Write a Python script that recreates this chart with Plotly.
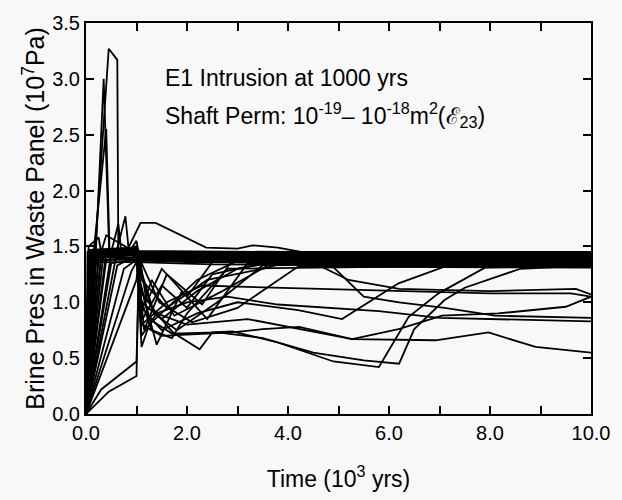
import plotly.graph_objects as go

# ---- data: time (10^3 yrs), brine pressure (10^7 Pa) ----
spike_1 = [(0, 0), (0.08, 0.6), (0.2, 1.6), (0.45, 3.27), (0.62, 3.17), (0.64, 1.45), (1.0, 1.45), (1.08, 1.38), (1.5, 1.39), (2.0, 1.41), (10, 1.41)]
spike_2 = [(0, 0), (0.1, 0.5), (0.35, 3.0), (0.46, 1.45), (0.8, 1.47), (1.0, 1.44), (10, 1.42)]
spike_3 = [(0, 0), (0.05, 1.0), (0.4, 2.55), (0.47, 1.4), (1.0, 1.43), (10, 1.40)]
small_1 = [(0, 0), (0.06, 1.42), (0.5, 1.45), (0.64, 1.70), (0.7, 1.45), (1.0, 1.44), (10, 1.41)]
small_2 = [(0, 0), (0.1, 1.44), (0.6, 1.45), (0.78, 1.77), (0.85, 1.45), (1.0, 1.45), (10, 1.42)]
small_3 = [(0, 0), (0.2, 1.43), (0.85, 1.45), (1.0, 1.55), (1.05, 1.42), (2.0, 1.40), (10, 1.40)]
small_4 = [(0, 0), (0.05, 1.5), (0.25, 1.58), (0.3, 1.45), (0.4, 1.6), (1.0, 1.44), (10, 1.43)]
hump = [(0, 0), (0.1, 1.42), (0.8, 1.45), (1.08, 1.71), (1.38, 1.71), (2.38, 1.49), (3.0, 1.48), (3.3, 1.51), (3.8, 1.49), (4.5, 1.43), (10, 1.41)]

band_1 = [(0, 0), (0.03, 1.45), (0.5, 1.46), (1.0, 1.44), (2, 1.44), (5, 1.44), (10, 1.44)]
band_2 = [(0, 0), (0.05, 1.42), (1.0, 1.43), (1.1, 1.40), (3, 1.41), (10, 1.42)]
band_3 = [(0, 0), (0.06, 1.40), (1, 1.40), (2, 1.38), (10, 1.38)]
band_4 = [(0, 0), (0.08, 1.38), (1, 1.38), (3, 1.36), (10, 1.35)]
band_5 = [(0, 0), (0.1, 1.44), (0.5, 1.47), (1, 1.46), (4, 1.45), (10, 1.45)]
band_6 = [(0, 0), (0.12, 1.36), (1, 1.36), (2.5, 1.34), (10, 1.32)]
band_7 = [(0, 0), (0.15, 1.41), (1, 1.42), (10, 1.40)]
band_8 = [(0, 0), (0.04, 1.2), (0.3, 1.47), (1.0, 1.46), (1.2, 1.43), (2.0, 1.40), (10, 1.34)]

fan_1 = [(0, 0), (0.2, 1.40), (1.0, 1.43), (1.1, 1.41), (3, 1.40), (10, 1.43)]
fan_2 = [(0, 0), (0.3, 1.42), (1.0, 1.42), (10, 1.39)]
fan_3 = [(0, 0), (0.4, 1.38), (1.0, 1.40), (1.1, 1.37), (10, 1.36)]
fan_4 = [(0, 0), (0.5, 1.35), (1.0, 1.38), (10, 1.41)]
fan_5 = [(0, 0), (0.62, 1.33), (1.0, 1.42), (10, 1.44)]
fan_6 = [(0, 0), (0.75, 1.30), (1.0, 1.38), (2, 1.36), (10, 1.33)]
fan_7 = [(0, 0), (0.9, 1.28), (1.05, 1.40), (3, 1.38), (10, 1.37)]
fan_8 = [(0, 0), (1.0, 1.20), (1.05, 1.44), (2.5, 1.42), (10, 1.42)]

tangle_1 = [(0, 0), (0.1, 1.42), (1.0, 1.45), (1.08, 1.3), (1.35, 0.9), (1.8, 0.75), (2.6, 1.0), (3.5, 1.33), (10, 1.36)]
tangle_2 = [(0, 0), (0.15, 1.45), (1.0, 1.47), (1.1, 0.6), (1.25, 0.8), (1.6, 0.95), (2.2, 1.2), (3.0, 1.37), (10, 1.39)]
tangle_3 = [(0, 0), (0.2, 1.44), (1.0, 1.46), (1.07, 1.05), (1.3, 0.75), (1.7, 0.68), (2.0, 0.9), (2.8, 1.3), (10, 1.34)]
tangle_4 = [(0, 0), (0.05, 1.46), (1.0, 1.47), (1.12, 0.85), (1.5, 1.15), (2.0, 0.95), (2.5, 1.25), (4.0, 1.40), (10, 1.40)]
tangle_5 = [(0, 0), (0.25, 1.40), (1.0, 1.45), (1.05, 1.2), (1.4, 0.62), (1.9, 1.1), (2.4, 0.85), (3.2, 1.35), (10, 1.37)]
tangle_6 = [(0, 0), (0.08, 1.47), (1.0, 1.49), (1.1, 1.35), (1.45, 1.0), (2.1, 0.82), (3.0, 0.95), (4.2, 1.32), (10, 1.31)]
tangle_7 = [(0, 0), (0.35, 1.45), (1.0, 1.48), (1.15, 0.75), (1.6, 1.25), (2.3, 0.98), (2.9, 1.38), (10, 1.39)]
tangle_8 = [(0, 0), (0.12, 1.43), (1.0, 1.44), (1.08, 0.9), (1.3, 1.2), (1.75, 0.88), (2.7, 1.10), (3.8, 1.38), (10, 1.38)]
tangle_9 = [(0, 0), (0.5, 1.44), (1.0, 1.50), (1.05, 1.45), (1.2, 1.0), (1.5, 1.3), (2.0, 1.05), (2.6, 1.42), (10, 1.43)]

late_a = [(0, 0), (0.3, 0.22), (1.0, 0.47), (1.05, 1.30), (1.3, 0.95), (1.72, 0.73), (2.25, 0.58), (2.5, 0.73), (2.9, 0.74), (3.8, 0.64), (4.9, 0.47), (5.8, 0.42), (6.39, 0.87), (6.98, 1.08), (7.9, 1.31), (10, 1.33)]
late_b = [(0, 0), (0.45, 0.2), (1.0, 0.34), (1.04, 1.25), (1.25, 0.85), (1.7, 0.72), (2.6, 0.73), (3.5, 0.68), (4.5, 0.55), (5.5, 0.48), (6.2, 0.45), (6.5, 0.76), (7.1, 1.02), (7.5, 1.13), (8.6, 1.30), (9.8, 1.33), (10, 1.33)]
late_c = [(0, 0), (0.1, 1.43), (1.0, 1.45), (1.1, 1.0), (1.5, 0.85), (2.2, 1.1), (3.0, 1.3), (4.0, 1.38), (4.75, 1.38), (5.5, 1.05), (6.2, 1.0), (7.1, 0.95), (8.1, 0.88), (10, 0.86)]
late_d = [(0, 0), (0.2, 1.4), (1.0, 1.45), (1.1, 0.8), (1.6, 1.0), (2.3, 1.15), (3.0, 1.14), (4.5, 1.12), (6.2, 1.10), (8.0, 1.08), (9.6, 1.08), (10, 1.05)]
late_e = [(0, 0), (0.3, 1.42), (1.0, 1.45), (1.1, 0.95), (1.5, 0.75), (2.2, 0.9), (3.0, 1.0), (4.2, 0.93), (5.07, 0.85), (6.19, 1.17), (7.1, 1.32), (10, 1.36)]
late_f = [(0, 0), (0.6, 1.42), (1.0, 1.46), (1.1, 0.7), (1.4, 0.9), (2.0, 0.8), (3.2, 0.85), (4.22, 0.76), (5.27, 0.67), (6.19, 0.76), (7.05, 0.88), (8.16, 0.90), (9.5, 0.96), (10, 1.05)]
late_g = [(0, 0), (0.15, 1.40), (1.0, 1.44), (1.1, 0.8), (1.5, 0.7), (2.0, 0.71), (2.9, 0.73), (3.5, 0.76), (4.22, 0.78), (5.27, 0.67), (6.92, 0.66), (7.97, 0.73), (8.9, 0.60), (10, 0.55)]
late_h = [(0, 0), (0.4, 1.45), (1.0, 1.45), (1.08, 1.1), (1.4, 0.9), (2.0, 1.0), (2.8, 1.05), (3.8, 0.98), (5.8, 0.92), (7.0, 0.86), (10, 0.83)]
late_i = [(0, 0), (0.25, 1.43), (1.0, 1.46), (1.1, 1.2), (1.6, 0.95), (2.4, 1.2), (3.5, 1.3), (4.3, 1.4), (5.2, 1.2), (6.2, 1.12), (8.0, 1.10), (9.7, 1.12), (10, 1.07)]

curves = [spike_1, spike_2, spike_3, small_1, small_2, small_3, small_4, hump,
          band_1, band_2, band_3, band_4, band_5, band_6, band_7, band_8,
          fan_1, fan_2, fan_3, fan_4, fan_5, fan_6, fan_7, fan_8,
          tangle_1, tangle_2, tangle_3, tangle_4, tangle_5, tangle_6, tangle_7, tangle_8, tangle_9,
          late_a, late_b, late_c, late_d, late_e, late_f, late_g, late_h, late_i]

x_tick_vals = [0, 2, 4, 6, 8, 10]
x_tick_text = ["0.0", "2.0", "4.0", "6.0", "8.0", "10.0"]
y_tick_vals = [0, 0.5, 1.0, 1.5, 2.0, 2.5, 3.0, 3.5]
y_tick_text = ["0.0", "0.5", "1.0", "1.5", "2.0", "2.5", "3.0", "3.5"]

FONT = "Liberation Sans, Arial, sans-serif"
BG = "#f8f8f8"

fig = go.Figure()
for c in curves:
    fig.add_trace(go.Scatter(
        x=[p[0] for p in c], y=[p[1] for p in c], mode="lines",
        line=dict(color="black", width=1.8), showlegend=False, hoverinfo="skip"))

fig.update_layout(
    width=622, height=500,
    margin=dict(l=86, r=29, t=19, b=84),
    paper_bgcolor=BG, plot_bgcolor=BG,
    font=dict(family=FONT, color="black", size=20),
    xaxis=dict(range=[0, 10], tickvals=x_tick_vals, ticktext=x_tick_text,
               ticks="inside", ticklen=8, tickwidth=1.5, tickcolor="black",
               minor=dict(dtick=1, ticks="inside", ticklen=8, tickwidth=1.5, tickcolor="black"),
               showline=True, linecolor="black", linewidth=2, mirror="allticks",
               showgrid=False, zeroline=False,
               tickfont=dict(size=20, family=FONT),
               title=dict(text="Time (10<sup>3</sup> yrs)", font=dict(size=23, family=FONT), standoff=28)),
    yaxis=dict(range=[0, 3.5], tickvals=y_tick_vals, ticktext=y_tick_text,
               ticks="inside", ticklen=8, tickwidth=1.5, tickcolor="black",
               showline=True, linecolor="black", linewidth=2, mirror="allticks",
               showgrid=False, zeroline=False,
               tickfont=dict(size=20, family=FONT),
               title=dict(text="Brine Pres in Waste Panel (10<sup>7</sup>Pa)", font=dict(size=25, family=FONT), standoff=0)),
)

fig.add_annotation(xref="paper", yref="paper", x=(163 - 86) / 507, y=(416 - 75) / 397,
                   xanchor="left", yanchor="middle", showarrow=False,
                   text="E1 Intrusion at 1000 yrs", font=dict(size=23, family=FONT))
fig.add_annotation(xref="paper", yref="paper", x=(163 - 86) / 507, y=(416 - 112) / 397,
                   xanchor="left", yanchor="middle", showarrow=False,
                   text="Shaft Perm: 10<sup>-19</sup>– 10<sup>-18</sup>m<sup>2</sup>(ℰ<sub>23</sub>)",
                   font=dict(size=23, family=FONT))

fig.write_html("out.html")
